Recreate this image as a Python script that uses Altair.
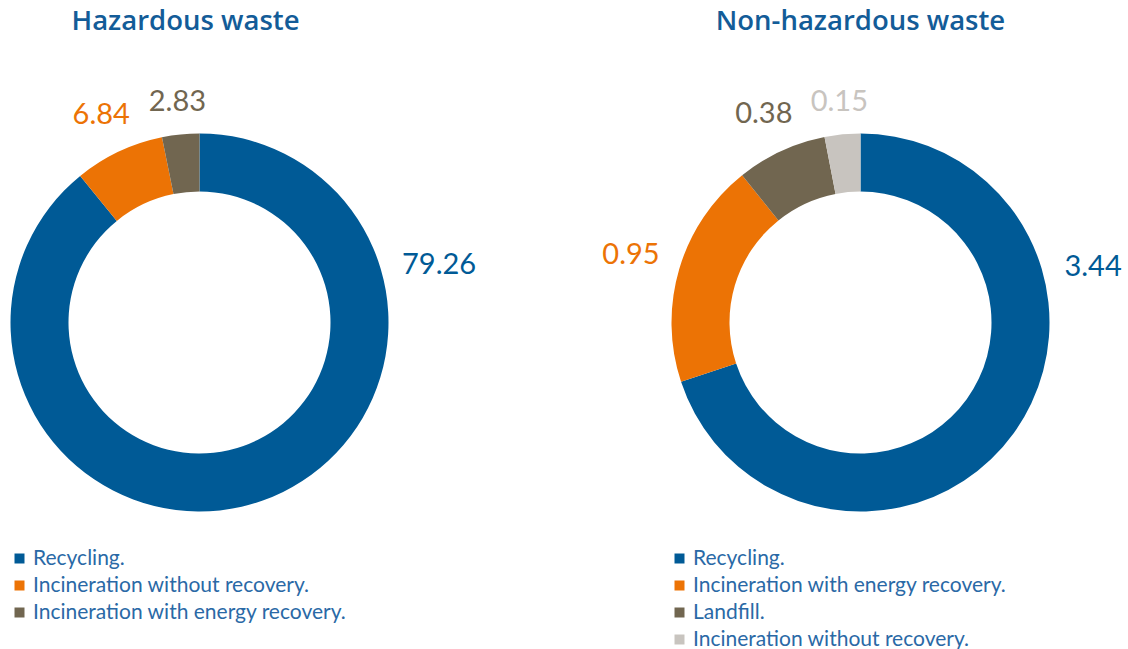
import altair as alt
import pandas as pd

# ---------------- data ----------------
panels = ["Hazardous waste", "Non-hazardous waste"]

haz_categories = ["Recycling.", "Incineration without recovery.", "Incineration with energy recovery."]
haz_values = [79.26, 6.84, 2.83]

non_categories = ["Recycling.", "Incineration with energy recovery.", "Landfill.", "Incineration without recovery."]
non_values = [3.44, 0.95, 0.38, 0.15]

# ---------------- style ----------------
haz_colors = ["#005A96", "#EC7305", "#716650"]
non_colors = ["#005A96", "#EC7305", "#716650", "#C8C4BF"]
TITLE_COLOR = "#135C98"
LEGEND_TEXT = "#2A69A6"
FONT = "Lato"
TITLE_FONT = "Open Sans"
OUTER_R = 189
INNER_R = 131
BIG_LABEL_FRAC = 0.2125  # label of the dominant slice sits on the right side
TITLE_DX = [-14, 0]

haz_df = pd.DataFrame({
    "panel": panels[0],
    "category": haz_categories,
    "value": haz_values,
    "idx": list(range(len(haz_values))),
})
non_df = pd.DataFrame({
    "panel": panels[1],
    "category": non_categories,
    "value": non_values,
    "idx": list(range(len(non_values))),
})

xscale = alt.Scale(type="point", domain=panels, range=[199.5, 860.5], padding=0)
theta_scale = alt.Scale(domain=[0, 1])


def donut(df, cats, colors, legend_x):
    cscale = alt.Scale(domain=cats, range=colors)
    arcs = alt.Chart(df).mark_arc(innerRadius=INNER_R, outerRadius=OUTER_R).encode(
        x=alt.X("panel:N", scale=xscale, axis=None),
        theta=alt.Theta("value:Q", stack="normalize", scale=theta_scale),
        order=alt.Order("idx:Q", sort="ascending"),
        color=alt.Color(
            "category:N",
            scale=cscale,
            legend=alt.Legend(
                orient="none",
                legendX=legend_x,
                legendY=548,
                title=None,
                symbolType="square",
                symbolSize=100,
                symbolStrokeWidth=0,
                labelFont=FONT,
                labelFontSize=21,
                labelColor=LEGEND_TEXT,
                labelOffset=3,
                rowPadding=5,
                labelLimit=500,
            ),
        ),
    )
    labels = (
        alt.Chart(df)
        .transform_joinaggregate(total="sum(value)")
        .transform_window(cum="sum(value)", sort=[alt.SortField("idx", order="ascending")], frame=[None, 0])
        .transform_calculate(start="datum.cum - datum.value")
        .transform_calculate(
            frac=f"datum.idx == 0 ? {BIG_LABEL_FRAC} : (datum.start + datum.value / 2) / datum.total",
            label="format(datum.value, '.2f')",
        )
        .transform_calculate(ang="datum.frac * 2 * PI")
        .transform_calculate(
            label_r=f"{OUTER_R} + 19 + length(datum.label) * 7.4 * abs(sin(datum.ang)) + 10.3 * abs(cos(datum.ang))"
        )
        .mark_text(font=FONT, fontSize=29, align="center", baseline="middle")
        .encode(
            x=alt.X("panel:N", scale=xscale, axis=None),
            theta=alt.Theta("frac:Q", stack=False, scale=theta_scale),
            radius=alt.Radius("label_r:Q", scale=None),
            text=alt.Text("label:N"),
            color=alt.Color("category:N", scale=cscale, legend=None),
        )
    )
    return arcs, labels


haz_arcs, haz_labels = donut(haz_df, haz_categories, haz_colors, 9)
non_arcs, non_labels = donut(non_df, non_categories, non_colors, 669)

title_layers = [
    alt.Chart(pd.DataFrame({"panel": [p]})).mark_text(
        font=TITLE_FONT, fontSize=27.5, fontWeight=600, color=TITLE_COLOR,
        align="center", baseline="middle", dx=dx,
    ).encode(
        x=alt.X("panel:N", scale=xscale, axis=None),
        y=alt.value(22),
        text=alt.Text("panel:N"),
    )
    for p, dx in zip(panels, TITLE_DX)
]

chart = (
    alt.layer(haz_arcs, haz_labels, non_arcs, non_labels, *title_layers)
    .resolve_scale(color="independent")
    .properties(
        width=1128,
        height=645,
        autosize=alt.AutoSizeParams(type="none"),
        padding={"left": 0, "top": 0, "right": 0, "bottom": 4},
        background="white",
    )
    .configure_view(stroke=None)
)

chart.save("out.html", embed_options={"renderer": "svg", "actions": False})
